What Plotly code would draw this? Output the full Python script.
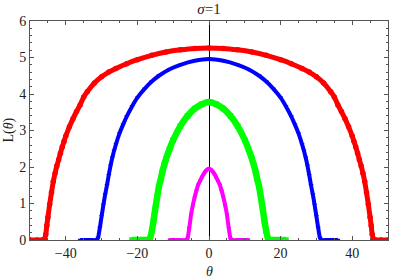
import plotly.graph_objects as go

# ---- data (theta, L(theta)) ----
red_theta = [-50, -48, -46.5, -46, -45.6, -45.3, -45, -44.5, -44, -43.5, -43, -42.5, -42,
             -41.5, -41, -40.5, -40, -39, -38, -37, -36, -35, -34, -32, -30, -28, -26, -23,
             -20, -16, -12, -8, -4,
             0, 4, 8, 12, 16, 20, 23, 26, 28, 30, 32, 34, 35, 36, 37, 38, 39, 40, 40.5, 41,
             41.5, 42, 42.5, 43, 43.5, 44, 44.5, 45, 45.3, 45.6, 46, 46.5, 48, 50]
red_L = [0, 0, 0, 0.02, 0.15, 0.4, 0.62, 0.98, 1.3, 1.6, 1.83, 2.03, 2.2,
         2.38, 2.55, 2.7, 2.85, 3.1, 3.32, 3.52, 3.7, 3.92, 4.06, 4.3, 4.47, 4.6, 4.7, 4.83,
         4.94, 5.06, 5.15, 5.21, 5.25,
         5.26, 5.25, 5.21, 5.15, 5.06, 4.94, 4.83, 4.7, 4.6, 4.47, 4.3, 4.06, 3.92, 3.7, 3.52,
         3.32, 3.1, 2.85, 2.7, 2.55, 2.38, 2.2, 2.03, 1.83, 1.6, 1.3, 0.98, 0.62, 0.4, 0.15,
         0.02, 0, 0, 0]

blue_theta = [-36, -33, -31.5, -31, -30.5, -30, -29.5, -29, -28.5, -28, -27.5, -27, -26.5,
              -26, -25, -24, -23, -21.5, -20, -18, -16, -14, -11, -8, -4,
              0, 4, 8, 11, 14, 16, 18, 20, 21.5, 23, 24, 25, 26, 26.5, 27, 27.5, 28, 28.5,
              29, 29.5, 30, 30.5, 31, 31.5, 33, 36]
blue_L = [0, 0, 0, 0.06, 0.33, 0.65, 0.96, 1.25, 1.5, 1.78, 2.04, 2.26, 2.45,
          2.62, 2.92, 3.16, 3.38, 3.66, 3.9, 4.14, 4.34, 4.5, 4.68, 4.8, 4.91,
          4.96, 4.91, 4.8, 4.68, 4.5, 4.34, 4.14, 3.9, 3.66, 3.38, 3.16, 2.92, 2.62, 2.45,
          2.26, 2.04, 1.78, 1.5, 1.25, 0.96, 0.65, 0.33, 0.06, 0, 0, 0]

green_theta = [-21.5, -19, -17, -16.5, -16, -15.5, -15, -14.5, -14, -13.5, -13, -12.5, -12,
               -11, -10, -8, -6, -4, -2,
               0, 2, 4, 6, 8, 10, 11, 12, 12.5, 13, 13.5, 14, 14.5, 15, 15.5, 16, 16.5, 17,
               19, 21.5]
green_L = [0, 0, 0, 0.04, 0.24, 0.52, 0.86, 1.16, 1.46, 1.66, 1.88, 2.06, 2.22,
           2.5, 2.74, 3.12, 3.4, 3.6, 3.72,
           3.78, 3.72, 3.6, 3.4, 3.12, 2.74, 2.5, 2.22, 2.06, 1.88, 1.66, 1.46, 1.16, 0.86,
           0.52, 0.24, 0.04, 0, 0, 0]

magenta_theta = [-11, -8.5, -6.5, -6, -5.5, -5, -4.5, -4, -3.5, -3, -2.5, -2, -1.5, -1, -0.5,
                 0, 0.5, 1, 1.5, 2, 2.5, 3, 3.5, 4, 4.5, 5, 5.5, 6, 6.5, 8.5, 11]
magenta_L = [0, 0, 0, 0.05, 0.34, 0.7, 0.96, 1.18, 1.36, 1.52, 1.62, 1.72, 1.81, 1.88, 1.93,
             1.95, 1.93, 1.88, 1.81, 1.72, 1.62, 1.52, 1.36, 1.18, 0.96, 0.7, 0.34, 0.05, 0,
             0, 0]

x_ticks = [-40, -20, 0, 20, 40]
x_ticktext = ["\u221240", "\u221220", "0", "20", "40"]
y_ticks = [0, 1, 2, 3, 4, 5, 6]

series = [
    (red_theta, red_L, "#FF0000", "circle", 5.5, 5),
    (blue_theta, blue_L, "#0000FF", "triangle-down", 4.5, 4),
    (green_theta, green_L, "#00FF00", "square", 5.5, 6.5),
    (magenta_theta, magenta_L, "#FF00FF", "circle", 4, 4),
]

fig = go.Figure()
for th, L, col, sym, msize, lw in series:
    fig.add_trace(go.Scatter(
        x=th, y=L, mode="lines+markers",
        line=dict(color=col, width=lw, shape="spline", smoothing=0.5),
        marker=dict(color=col, symbol=sym, size=msize, line=dict(width=0)),
        showlegend=False, hoverinfo="skip",
    ))

font_serif = "Liberation Serif, Times New Roman, serif"
txt_font = dict(family=font_serif, size=14, color="#222222")
axis_common = dict(
    showline=True, linecolor="#555555", linewidth=1, mirror="ticks",
    ticks="inside", ticklen=4, tickcolor="#555555", tickwidth=1,
    showgrid=False, layer="above traces", automargin=False,
    tickfont=txt_font,
)

fig.update_xaxes(
    range=[-50, 50], tickvals=x_ticks, ticktext=x_ticktext,
    zeroline=True, zerolinecolor="#000000", zerolinewidth=1,
    minor=dict(ticks="inside", dtick=5, tick0=0, ticklen=2, tickcolor="#555555"),
    **axis_common,
)
fig.update_yaxes(
    range=[0, 6], tickvals=y_ticks,
    zeroline=False,
    minor=dict(ticks="inside", dtick=0.2, tick0=0, ticklen=2, tickcolor="#555555"),
    **axis_common,
)

# axis titles (placed like the reference)
fig.add_annotation(text="<i>\u03b8</i>", xref="paper", yref="paper", x=0.5, y=0,
                   xanchor="center", yanchor="middle", yshift=-31, showarrow=False,
                   font=txt_font)
fig.add_annotation(text="L(<i>\u03b8</i>)", xref="paper", yref="paper", x=0, y=0.5,
                   xanchor="center", yanchor="middle", xshift=-22, textangle=-90,
                   showarrow=False, font=txt_font)

fig.update_layout(
    width=409, height=280, autosize=False,
    margin=dict(l=30, r=21, t=21, b=40),
    paper_bgcolor="white", plot_bgcolor="white",
    title=dict(text="<i>\u03c3</i>=1", x=0.511, xanchor="center", y=0.968,
               yanchor="middle", font=dict(family=font_serif, size=15, color="#222222")),
)

fig.write_html("out.html", config={"displayModeBar": False},
               post_script="document.body.style.margin='0px';")
